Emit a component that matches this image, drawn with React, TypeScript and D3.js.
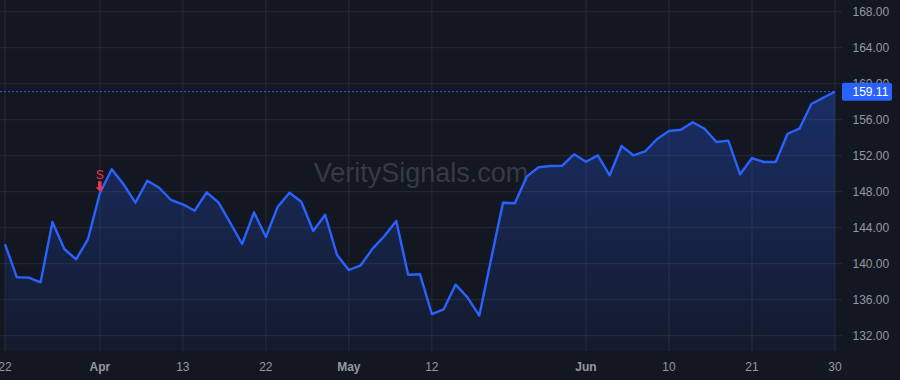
import React from "react";
import * as d3 from "d3";

const prices: number[] = [
  142.16, 138.49, 138.45, 137.93, 144.63, 141.63, 140.49, 142.74, 147.82, 150.49,
  148.82, 146.78, 149.22, 148.44, 147.08, 146.6, 145.89, 147.93, 146.82, 144.54,
  142.19, 145.71, 142.97, 146.33, 147.89, 146.86, 143.63, 145.44, 140.97, 139.3,
  139.82, 141.67, 143.08, 144.74, 138.78, 138.82, 134.41, 134.93, 137.67, 136.26,
  134.22, 140.52, 146.78, 146.71, 149.67, 150.71, 150.86, 150.89, 152.16, 151.33,
  152.04, 149.82, 153.08, 152.04, 152.49, 153.86, 154.74, 154.89, 155.71, 155.0,
  153.52, 153.67, 149.93, 151.74, 151.3, 151.3, 154.44, 155.0, 157.74, 158.44,
  159.11,
];

const xTickIndex: number[] = [0, 8, 15, 22, 29, 36, 49, 56, 63, 70];
const xTickLabels: string[] = ["22", "Apr", "13", "22", "May", "12", "Jun", "10", "21", "30"];
const xTickBold: boolean[] = [false, true, false, false, true, false, true, false, false, false];
const yTicks: number[] = [132, 136, 140, 144, 148, 152, 156, 160, 164, 168];
const signalIndex = 8;
const signalLabel = "S";
const lastPrice = 159.11;
const watermark = "VeritySignals.com";

export default function App() {
  const W = 900;
  const H = 380;
  const x = d3.scaleLinear().domain([0, prices.length - 1]).range([5, 835]);
  const y = d3.scaleLinear().domain([132, 168]).range([335.7, 11.7]);
  const plotRight = 835;
  const gridBottom = 351;

  const line = d3
    .line<number>()
    .x((_, i) => x(i))
    .y((d) => y(d));
  const area = d3
    .area<number>()
    .x((_, i) => x(i))
    .y0(gridBottom)
    .y1((d) => y(d));

  const font = "'Liberation Sans', Arial, sans-serif";
  const sx = x(signalIndex);
  const sy = y(prices[signalIndex]);
  const py = y(lastPrice);

  return (
    <svg
      width={W}
      height={H}
      style={{ position: "absolute", left: 0, top: 0, display: "block" }}
    >
      <defs>
        <linearGradient id="fillGrad2" x1="0" y1={y(160)} x2="0" y2={gridBottom} gradientUnits="userSpaceOnUse">
          <stop offset="0" stopColor="#2962ff" stopOpacity={0.32} />
          <stop offset="1" stopColor="#2962ff" stopOpacity={0.05} />
        </linearGradient>
      </defs>
      <rect x={0} y={0} width={W} height={H} fill="#131722" />
      {yTicks.map((t) => (
        <line key={"h" + t} x1={0} x2={842} y1={y(t)} y2={y(t)} stroke="#262a35" strokeWidth={1} />
      ))}
      {xTickIndex.map((i) => (
        <line key={"v" + i} x1={x(i)} x2={x(i)} y1={0} y2={gridBottom} stroke="#262a35" strokeWidth={1} />
      ))}
      <text x={421} y={182} textAnchor="middle" fontFamily={font} fontSize={27} fill="#363a45">
        {watermark}
      </text>
      <path d={area(prices) || ""} fill="url(#fillGrad2)" />
      <path d={line(prices) || ""} fill="none" stroke="#2962ff" strokeWidth={2.4} strokeLinejoin="round" />
      <line
        x1={0}
        x2={plotRight}
        y1={py}
        y2={py}
        stroke="#2962ff"
        strokeWidth={1}
        strokeDasharray="2 2"
      />
      <text x={sx} y={179} textAnchor="middle" fontFamily={font} fontSize={12} fill="#f23645">
        {signalLabel}
      </text>
      <path
        d={`M${sx - 1.8},${sy - 12} L${sx + 1.8},${sy - 12} L${sx + 1.8},${sy - 6} L${sx + 4.2},${sy - 6} L${sx},${sy - 1.5} L${sx - 4.2},${sy - 6} L${sx - 1.8},${sy - 6} Z`}
        fill="#f23645"
      />
      {yTicks.map((t) => (
        <text key={"yl" + t} x={852.5} y={y(t) + 4.3} fontFamily={font} fontSize={12} fill="#9598a1">
          {t.toFixed(2)}
        </text>
      ))}
      <rect x={842} y={py - 9} width={50} height={18} rx={2} fill="#2962ff" />
      <text x={852.5} y={py + 4.3} fontFamily={font} fontSize={12} fill="#ffffff">
        {lastPrice.toFixed(2)}
      </text>
      {xTickIndex.map((i, k) => (
        <text
          key={"xl" + k}
          x={x(i)}
          y={371}
          textAnchor="middle"
          fontFamily={font}
          fontSize={12}
          fontWeight={xTickBold[k] ? "bold" : "normal"}
          fill="#9598a1"
        >
          {xTickLabels[k]}
        </text>
      ))}
    </svg>
  );
}
